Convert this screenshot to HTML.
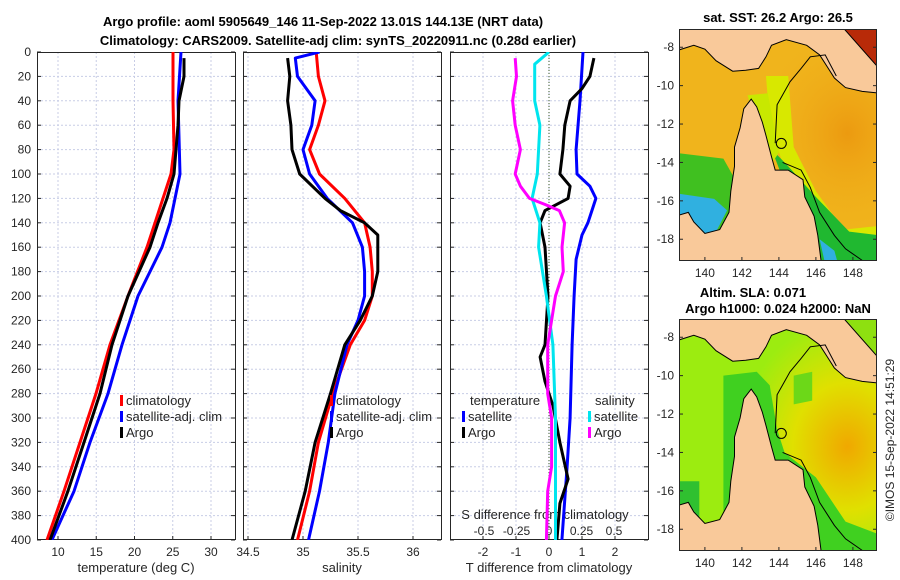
<!DOCTYPE html>
<html><head><meta charset="utf-8"><style>
html,body{margin:0;padding:0;background:#fff;}
svg{display:block;font-family:"Liberation Sans","DejaVu Sans",sans-serif;}
</style></head><body>
<svg id="c" width="900" height="580" viewBox="0 0 900 580" xmlns="http://www.w3.org/2000/svg">
<defs>
<clipPath id="cp1"><rect x="37" y="52" width="198" height="488"/></clipPath>
<clipPath id="cp2"><rect x="243" y="52" width="198" height="488"/></clipPath>
<clipPath id="cp3"><rect x="450" y="52" width="198" height="488"/></clipPath>
<clipPath id="cm1"><rect x="679" y="29" width="198" height="232"/></clipPath>
<clipPath id="cm2"><rect x="679" y="319" width="198" height="232"/></clipPath>
<radialGradient id="g2" cx="0.85" cy="0.55" r="0.55"><stop offset="0" stop-color="#f0a800"/><stop offset="0.5" stop-color="#e0e000"/><stop offset="1" stop-color="#e0e000" stop-opacity="0"/></radialGradient>
<radialGradient id="g1" cx="0.85" cy="0.45" r="0.5"><stop offset="0" stop-color="#ec9a10"/><stop offset="1" stop-color="#f0b41c" stop-opacity="0"/></radialGradient>
</defs>
<g font-weight="bold" font-size="13" fill="#000" text-anchor="middle">
<text x="323" y="26">Argo profile: aoml 5905649_146 11-Sep-2022 13.01S 144.13E (NRT data)</text>
<text x="338" y="45">Climatology: CARS2009. Satellite-adj clim: synTS_20220911.nc (0.28d earlier)</text>
<text x="778" y="22">sat. SST: 26.2 Argo: 26.5</text>
<text x="753" y="297">Altim. SLA: 0.071</text>
<text x="778" y="313">Argo h1000: 0.024 h2000: NaN</text>
</g>
<g id="plots"></g>
<g id="maps"></g>
<text transform="translate(894,440) rotate(-90)" text-anchor="middle" font-size="12" fill="#262626">©IMOS 15-Sep-2022 14:51:29</text>
</svg>
<script>
const depthT = [0,20,40,60,80,100,120,140,160,200,240,280,320,360,400];
const climT = [25.03,25.03,25.03,25.1,25.16,24.77,23.73,22.68,21.63,19.15,16.8,14.97,12.88,10.78,8.56];
const argoTdepth = [5,20,40,60,80,100,120,140,160,200,240,280,320,360,400];
const argoT = [26.47,26.47,25.82,25.69,25.42,25.16,24.25,23.07,22.03,19.15,17.06,15.49,13.4,11.3,8.95];
const satTdepth = [0,40,100,120,140,160,180,200,240,280,320,360,400];
const satT = [26.08,25.69,25.95,25.3,24.64,23.6,22.03,20.46,18.37,16.54,14.18,12.09,9.2];

const depthS = [0,20,40,60,80,100,120,140,160,180,200,220,240,280,320,360,400];
const climS = [35.12,35.14,35.2,35.14,35.06,35.15,35.38,35.56,35.61,35.63,35.63,35.56,35.43,35.27,35.14,35.06,34.95];
const argoSdepth = [5,20,40,60,80,100,120,130,140,150,160,180,200,220,240,280,320,360,400];
const argoS = [34.86,34.88,34.86,34.89,34.9,34.97,35.2,35.34,35.56,35.68,35.68,35.68,35.63,35.52,35.38,35.25,35.11,35.02,34.9];
const satSdepth = [0,5,20,40,60,80,100,120,140,160,180,200,220,240,280,320,360,400];
const satS = [35.15,34.93,34.95,35.11,35.08,35.0,35.06,35.22,35.45,35.54,35.56,35.56,35.5,35.4,35.29,35.23,35.15,35.05];

const dTsatDepth = [0,40,80,100,110,120,130,140,150,170,200,240,300,340,400];
const dTsat = [1.03,0.94,0.82,0.85,1.24,1.42,1.3,1.18,1.0,0.82,0.76,0.7,0.64,0.55,0.39];
const dTargoDepth = [5,20,30,40,60,80,100,110,120,130,140,160,200,240,250,270,290,320,350,370,400];
const dTargo = [1.36,1.24,1.0,0.64,0.48,0.42,0.33,0.64,0.58,-0.12,-0.27,-0.12,-0.03,-0.12,-0.27,-0.12,0.12,0.33,0.58,0.33,0.24];
const dSargoDepth = [5,20,40,60,80,100,110,120,125,130,140,160,180,200,220,240,280,300,340,360,400];
const dSargo = [-0.26,-0.25,-0.28,-0.26,-0.22,-0.26,-0.22,-0.15,-0.03,0.08,0.12,0.1,0.11,0.05,0.02,-0.01,-0.01,0.02,0.02,-0.01,-0.02];
const dSsatDepth = [0,10,20,40,60,80,100,120,140,160,200,240,300,400];
const dSsat = [0,-0.11,-0.11,-0.11,-0.07,-0.08,-0.09,-0.13,-0.07,-0.08,-0.02,0.03,0.05,0.05];

const depthTicks = [0,20,40,60,80,100,120,140,160,180,200,220,240,260,280,300,320,340,360,380,400];
const tTicks = [10,15,20,25,30];
const sTicks = [34.5,35,35.5,36];
const sTickLabels = ["34.5","35","35.5","36"];
const dTTicks = [-2,-1,0,1,2];
const dSTicks = [-0.5,-0.25,0,0.25,0.5];
const dSTickLabels = ["-0.5","-0.25","0","0.25","0.5"];
const latTicks = [-8,-10,-12,-14,-16,-18];
const lonTicks = [140,142,144,146,148];

const NS="http://www.w3.org/2000/svg";
const plots=document.getElementById('plots');
function mk(tag,attrs,parent){const e=document.createElementNS(NS,tag);for(const k in attrs)e.setAttribute(k,attrs[k]);(parent||plots).appendChild(e);return e;}
const yD = d => 52 + d*(488/400);
const xT = t => 58 + (t-10)*7.65;
const xS = s => 303 + (s-35)*110;
const xDT = v => 549 + v*33;
const xDS = v => 549 + v*130;

const panels=[{x:37,name:'temperature-panel'},{x:243,name:'salinity-panel'},{x:450,name:'difference-panel'}];
const gridX=[tTicks.map(xT), sTicks.map(xS), dTTicks.map(xDT)];
panels.forEach((p,i)=>{
  const g=mk('g',{});
  
  
  depthTicks.forEach(d=>{ if(d>0&&d<400){const l=mk('line',{x1:p.x,x2:p.x+198,y1:yD(d),y2:yD(d),stroke:'#c8cde6','stroke-width':1,'stroke-dasharray':'2,2'},g);
    
    }
    mk('line',{x1:p.x,x2:p.x+4,y1:yD(d),y2:yD(d),stroke:'#262626'},g);
    mk('line',{x1:p.x+194,x2:p.x+198,y1:yD(d),y2:yD(d),stroke:'#262626'},g);
  });
  gridX[i].forEach(x=>{const l=mk('line',{x1:x,x2:x,y1:52,y2:540,stroke:'#c8cde6','stroke-width':1,'stroke-dasharray':'2,2'},g);
    
    
    mk('line',{x1:x,x2:x,y1:536,y2:540,stroke:'#262626'},g);});
  const r=mk('rect',{x:p.x+0.5,y:52.5,width:198,height:487,fill:'none',stroke:'#262626','stroke-width':1},g);
  
  
});
depthTicks.forEach(d=>{const t=mk('text',{x:31,y:yD(d)+4,'text-anchor':'end','font-size':12,fill:'#262626'});t.textContent=d;
  
  });
function ticklabels(arr,labels,fx,y){arr.forEach((v,i)=>{const t=mk('text',{x:fx(v),y:y,'text-anchor':'middle','font-size':12,fill:'#262626'});t.textContent=labels[i];
  
  });}
ticklabels(tTicks,tTicks.map(String),xT,556);
ticklabels(sTicks,sTickLabels,xS,556);
ticklabels(dTTicks,dTTicks.map(String),xDT,556);
ticklabels(dSTicks,dSTickLabels,xDS,535);
function label(txt,x,y,name,anchor,color){const t=mk('text',{x:x,y:y,'text-anchor':anchor||'middle','font-size':13,fill:color||'#262626'});t.textContent=txt;
  
  return t;}
label('temperature (deg C)',136,572,'x-axis-title-temperature');
label('salinity',342,572,'x-axis-title-salinity');
label('T difference from climatology',549,572,'x-axis-title-t-difference');
label('S difference from climatology',545,519,'s-axis-title');
mk('line',{x1:549,x2:549,y1:52,y2:540,stroke:'#3a5a2a','stroke-width':1,'stroke-dasharray':'1,2'});

function series(depths,vals,fx,color,clip,name){
  const pts=depths.map((d,i)=>fx(vals[i]).toFixed(1)+','+yD(d).toFixed(1)).join(' ');
  const e=mk('polyline',{points:pts,fill:'none',stroke:color,'stroke-width':3,'stroke-linejoin':'round','clip-path':'url(#'+clip+')'});
  
  
}
series(depthT,climT,xT,'#ff0000','cp1','temp-climatology-line');
series(satTdepth,satT,xT,'#0000ff','cp1','temp-satellite-line');
series(argoTdepth,argoT,xT,'#000000','cp1','temp-argo-line');
series(depthS,climS,xS,'#ff0000','cp2','sal-climatology-line');
series(satSdepth,satS,xS,'#0000ff','cp2','sal-satellite-line');
series(argoSdepth,argoS,xS,'#000000','cp2','sal-argo-line');
series(dTsatDepth,dTsat,xDT,'#0000ff','cp3','dt-satellite-line');
series(dTargoDepth,dTargo,xDT,'#000000','cp3','dt-argo-line');
series(dSsatDepth,dSsat,xDS,'#00e5ee','cp3','ds-satellite-line');
series(dSargoDepth,dSargo,xDS,'#ff00ff','cp3','ds-argo-line');

function legend(x,y,items,name){
  const g=mk('g',{});
  
  
  items.forEach((it,i)=>{
    if(it[1]) mk('rect',{x:x,y:y+i*16-10,width:3,height:11,fill:it[1]},g);
    const t=mk('text',{x:x+(it[1]?6:0),y:y+i*16,'font-size':13,fill:'#262626'},g);t.textContent=it[0];
  });
}
legend(120,405,[['climatology','#ff0000'],['satellite-adj. clim','#0000ff'],['Argo','#000000']],'temp-legend');
legend(330,405,[['climatology','#ff0000'],['satellite-adj. clim','#0000ff'],['Argo','#000000']],'sal-legend');
legend(470,405,[['temperature',null]],'dt-legend-title');
legend(462,421,[['satellite','#0000ff'],['Argo','#000000']],'dt-legend');
legend(595,405,[['salinity',null]],'ds-legend-title');
legend(588,421,[['satellite','#00e5ee'],['Argo','#ff00ff']],'ds-legend');

const maps=document.getElementById('maps');
const lonX = lo => 679 + (lo-138.6)*18.5;
const latY = (la,top) => top + (-7.05-la)*19.2;
const pngCoast=[[138.4,-6.8],[147.6,-6.8],[149.5,-8.9],[149.5,-10.4],[148.5,-10.3],[147.6,-10.1],[147,-9.6],[146.6,-9.0],[146.2,-8.4],[145.5,-7.9],[144.4,-7.6],[143.6,-7.9],[143.3,-8.5],[142.9,-9.1],[142.2,-9.2],[141.5,-9.25],[140.6,-8.7],[140,-8.1],[139.4,-7.9],[138.4,-8.2]];
const ozCoast=[[138.4,-16.8],[139.1,-16.6],[139.4,-17.1],[140,-17.7],[140.8,-17.5],[141.3,-16.6],[141.4,-15.5],[141.6,-14.2],[141.6,-13.2],[141.9,-12.2],[142.1,-11.2],[142.5,-10.7],[142.8,-11.1],[143.1,-11.9],[143.3,-12.6],[143.6,-13.7],[143.8,-14.4],[144.5,-14.4],[145.3,-14.9],[145.4,-15.8],[145.9,-16.8],[146.1,-17.8],[146.3,-19.3],[138.4,-19.3]];
const reefLine=[[143.8,-13],[143.9,-11],[144.6,-9.8],[145.2,-9.1],[145.7,-8.5],[146.5,-8.4],[147.1,-9.5]];
const reefLine2=[[144.2,-14.0],[145.2,-14.4],[145.7,-15.3],[146.2,-16.6],[147,-17.8],[147.6,-18.5],[148.5,-19.1]];
const solomonSea=[[147.3,-6.8],[149.5,-6.8],[149.5,-9.2]];
function pts(arr,top){return arr.map(p=>lonX(p[0]).toFixed(1)+','+latY(p[1],top).toFixed(1)).join(' ');}
function drawMap(top,clip,name,sst){
  const g=mk('g',{'clip-path':'url(#'+clip+')'},maps);
  
  
  if(sst){
    mk('rect',{x:679,y:top,width:198,height:232,fill:'#f0b41c'},g);
    mk('rect',{x:679,y:top,width:198,height:232,fill:'url(#g1)'},g);
    mk('polygon',{points:pts([[143.5,-12],[143.3,-9.5],[144.5,-9.5],[144.8,-13.2],[146,-15.5],[147.5,-17.5],[149.5,-17.3],[149.5,-19.3],[146,-19.3]],top),fill:'#d8e800'},g);
    mk('polygon',{points:pts([[143.6,-13.3],[144.5,-14.2],[146,-15.8],[147.8,-17.6],[149.5,-17.8],[149.5,-19.3],[146,-19.3]],top),fill:'#20b830'},g);
    mk('polygon',{points:pts([[142.3,-10.5],[143.4,-10.4],[144,-13.5],[143.5,-14.2]],top),fill:'#c8e800'},g);
    mk('polygon',{points:pts([[138.4,-13.5],[141,-13.8],[141.7,-15],[141.3,-17.5],[138.4,-17.5]],top),fill:'#40c020'},g);
    mk('polygon',{points:pts([[138.4,-15.6],[140.5,-15.9],[141.2,-16.5],[140.5,-17.8],[138.4,-17.8]],top),fill:'#30b0e0'},g);
    mk('polygon',{points:pts([[146.5,-19.3],[146.2,-18],[147,-18.6],[147.2,-19.3]],top),fill:'#30b0e0'},g);
  } else {
    mk('rect',{x:679,y:top,width:198,height:232,fill:'#9cec10'},g);
    mk('rect',{x:679,y:top,width:198,height:232,fill:'url(#g2)'},g);
    mk('polygon',{points:pts([[141,-10],[142.8,-9.8],[143.5,-10.5],[143.9,-12.8],[144.3,-14],[146,-15.3],[147.6,-17.6],[149.5,-18.3],[149.5,-19.3],[146,-19.3],[141,-19.3]],top),fill:'#40d020'},g);
    mk('polygon',{points:pts([[138.4,-15.5],[139.7,-15.5],[139.7,-17.5],[138.4,-17.5]],top),fill:'#30c030'},g);
    mk('polygon',{points:pts([[144.8,-10],[145.8,-9.8],[145.8,-11.3],[144.8,-11.5]],top),fill:'#6cd818'},g);
  }
  mk('polygon',{points:pts(pngCoast,top),fill:'#f9c99a',stroke:'#000','stroke-width':1},g);
  mk('polygon',{points:pts(ozCoast,top),fill:'#f9c99a',stroke:'#000','stroke-width':1},g);
  mk('polygon',{points:pts(solomonSea,top),fill:sst?'#b82a08':'#8ee010',stroke:'#000','stroke-width':1},g);
  mk('polyline',{points:pts(reefLine,top),fill:'none',stroke:'#000','stroke-width':1},g);
  mk('polyline',{points:pts(reefLine2,top),fill:'none',stroke:'#000','stroke-width':1},g);
  const c=mk('circle',{cx:lonX(144.13),cy:latY(-13.01,top),r:5,fill:'none',stroke:'#000','stroke-width':1},g);
  
  
  const b=mk('rect',{x:679.5,y:top+0.5,width:197,height:231,fill:'none',stroke:'#262626'},maps);
  
  
  latTicks.forEach(la=>{const y=latY(la,top);
    mk('line',{x1:679,x2:683,y1:y,y2:y,stroke:'#262626'},maps);
    mk('line',{x1:873,x2:877,y1:y,y2:y,stroke:'#262626'},maps);
    const t=mk('text',{x:674,y:y+4,'text-anchor':'end','font-size':12,fill:'#262626'},maps);t.textContent=la;
    
    });
  lonTicks.forEach(lo=>{const x=lonX(lo);
    mk('line',{x1:x,x2:x,y1:top+228,y2:top+232,stroke:'#262626'},maps);
    const t=mk('text',{x:x,y:top+248,'text-anchor':'middle','font-size':12,fill:'#262626'},maps);t.textContent=lo;
    
    });
}
drawMap(29,'cm1','sst-map',true);
drawMap(319,'cm2','sla-map',false);
</script>
</body></html>
